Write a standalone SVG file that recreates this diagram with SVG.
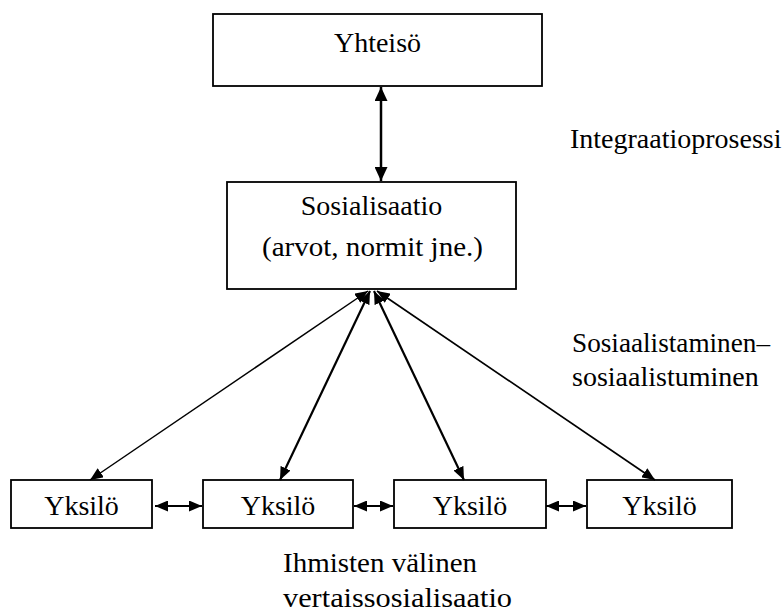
<svg xmlns="http://www.w3.org/2000/svg" width="783" height="614" viewBox="0 0 783 614">
<style>
  .box { fill: #ffffff; stroke: #000000; stroke-width: 1.8; }
  .t { font-size: 28px; fill: #000000; }
  .c { text-anchor: middle; }
  .conn { stroke: #000000; fill: none; marker-start: url(#ah); marker-end: url(#ah); }
  .big { marker-start: url(#ahb); marker-end: url(#ahb); }
</style>
<defs>
  <marker id="ah" viewBox="0 0 13 11" refX="13" refY="5.5" markerWidth="13" markerHeight="11" markerUnits="userSpaceOnUse" orient="auto-start-reverse">
    <path d="M0,0 L13,5.5 L0,11 z" fill="#000000"/>
  </marker>
  <marker id="ahb" viewBox="0 0 14 13" refX="14" refY="6.5" markerWidth="14" markerHeight="13" markerUnits="userSpaceOnUse" orient="auto-start-reverse">
    <path d="M0,0 L14,6.5 L0,13 z" fill="#000000"/>
  </marker>
</defs>
<rect width="783" height="614" fill="#ffffff"/>
<g font-family="Liberation Serif, DejaVu Serif, serif">
<g id="yhteiso">
  <rect class="box" x="213" y="14" width="329" height="72"/>
  <text class="t c" x="377.5" y="52">Yhteisö</text>
</g>
<g id="sosialisaatio">
  <rect class="box" x="227" y="182" width="289" height="107"/>
  <text class="t c" x="371.5" y="215">Sosialisaatio</text>
  <text class="t c" x="372.5" y="256" textLength="221" lengthAdjust="spacingAndGlyphs">(arvot, normit jne.)</text>
</g>
<g id="yksilo1">
  <rect class="box" x="11" y="480" width="141" height="48"/>
  <text class="t c" x="81.5" y="515">Yksilö</text>
</g>
<g id="yksilo2">
  <rect class="box" x="203" y="480" width="150" height="48"/>
  <text class="t c" x="278" y="515">Yksilö</text>
</g>
<g id="yksilo3">
  <rect class="box" x="394" y="480" width="152" height="48"/>
  <text class="t c" x="470" y="515">Yksilö</text>
</g>
<g id="yksilo4">
  <rect class="box" x="587" y="480" width="145" height="48"/>
  <text class="t c" x="659.5" y="515">Yksilö</text>
</g>
<g id="connectors">
  <line class="conn big" x1="381" y1="87" x2="381" y2="181" stroke-width="2.5"/>
  <line class="conn" x1="368" y1="291" x2="90" y2="480" stroke-width="1.5"/>
  <line class="conn" x1="370" y1="291" x2="280" y2="480" stroke-width="2.2"/>
  <line class="conn" x1="374" y1="291" x2="464" y2="480" stroke-width="2.2"/>
  <line class="conn" x1="377" y1="291" x2="655" y2="480" stroke-width="1.7"/>
  <line class="conn" x1="155" y1="506" x2="202" y2="506" stroke-width="2.2"/>
  <line class="conn" x1="354" y1="506" x2="393" y2="506" stroke-width="2.2"/>
  <line class="conn" x1="546" y1="506" x2="586" y2="506" stroke-width="2.2"/>
</g>
<g id="labels">
  <text class="t" x="570" y="148">Integraatioprosessi</text>
  <text class="t" x="572" y="352" textLength="198" lengthAdjust="spacingAndGlyphs">Sosiaalistaminen–</text>
  <text class="t" x="572" y="386">sosiaalistuminen</text>
  <text class="t" x="283" y="572" textLength="194" lengthAdjust="spacingAndGlyphs">Ihmisten välinen</text>
  <text class="t" x="283" y="607" textLength="229" lengthAdjust="spacingAndGlyphs">vertaissosialisaatio</text>
</g>
</g>
</svg>
